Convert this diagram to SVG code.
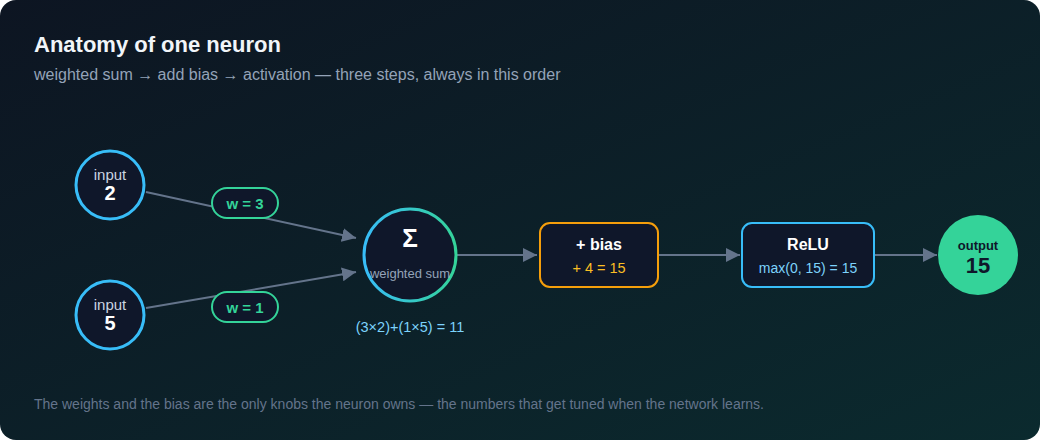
<svg xmlns="http://www.w3.org/2000/svg" width="1040" height="440" viewBox="0 0 1040 440">
<defs>
<linearGradient id="bg" x1="0" y1="0" x2="1" y2="1">
<stop offset="0" stop-color="#0d1522"/>
<stop offset="1" stop-color="#0b2a2e"/>
</linearGradient>
<linearGradient id="ring" x1="0" y1="0" x2="1" y2="0">
<stop offset="0" stop-color="#38bdf8"/>
<stop offset="1" stop-color="#34d399"/>
</linearGradient>
<marker id="arr" viewBox="0 0 10 10" refX="10" refY="5" markerWidth="14" markerHeight="14" markerUnits="userSpaceOnUse" orient="auto">
<path d="M0,0 L10,5 L0,10 z" fill="#64748b"/>
</marker>
<style>
.t{font-family:"Liberation Sans",Arial,sans-serif}
.edge{stroke:#64748b;stroke-width:2;fill:none}
.in{fill:#0f172a;stroke:#38bdf8;stroke-width:3}
.lbl{font-size:15px;fill:#cbd5e1}
.val{font-size:20px;font-weight:bold;fill:#ffffff}
.pill{fill:#0f172a;stroke:#34d399;stroke-width:2}
.pt{font-size:15px;font-weight:bold;fill:#34d399}
</style>
</defs>
<rect x="0" y="0" width="1040" height="440" rx="16" fill="url(#bg)"/>
<text class="t" x="34" y="52" font-size="22" font-weight="bold" fill="#f1f5f9">Anatomy of one neuron</text>
<text class="t" x="34" y="80" font-size="16" fill="#94a3b8">weighted sum → add bias → activation — three steps, always in this order</text>

<g id="connectors">
<line class="edge" x1="146" y1="192" x2="356" y2="238" marker-end="url(#arr)"/>
<line class="edge" x1="146" y1="308" x2="356" y2="272" marker-end="url(#arr)"/>
<line class="edge" x1="457" y1="255" x2="537" y2="255" marker-end="url(#arr)"/>
<line class="edge" x1="658" y1="255" x2="740" y2="255" marker-end="url(#arr)"/>
<line class="edge" x1="874" y1="255" x2="937" y2="255" marker-end="url(#arr)"/>
</g>

<g id="w1">
<rect class="pill" x="212" y="188" width="66" height="30" rx="15"/>
<text class="t pt" x="245" y="208.5" text-anchor="middle">w = 3</text>
</g>
<g id="w2">
<rect class="pill" x="212" y="292" width="66" height="30" rx="15"/>
<text class="t pt" x="245" y="312.5" text-anchor="middle">w = 1</text>
</g>

<g id="input1">
<circle class="in" cx="110" cy="185" r="34"/>
<text class="t lbl" x="110" y="180" text-anchor="middle">input</text>
<text class="t val" x="110" y="200" text-anchor="middle">2</text>
</g>
<g id="input2">
<circle class="in" cx="110" cy="315" r="34"/>
<text class="t lbl" x="110" y="310" text-anchor="middle">input</text>
<text class="t val" x="110" y="330" text-anchor="middle">5</text>
</g>

<g id="sum">
<circle cx="410" cy="255" r="46" fill="#0f172a" stroke="url(#ring)" stroke-width="3"/>
<text class="t" x="410" y="247" text-anchor="middle" font-size="26" font-weight="bold" fill="#ffffff">Σ</text>
<text class="t" x="410" y="278" text-anchor="middle" font-size="13" fill="#94a3b8">weighted sum</text>
<text class="t" x="410" y="332" text-anchor="middle" font-size="14.5" fill="#7dd3fc">(3×2)+(1×5) = 11</text>
</g>

<g id="bias">
<rect x="540" y="223" width="118" height="64" rx="10" fill="#0f172a" stroke="#f59e0b" stroke-width="2"/>
<text class="t" x="599" y="250" text-anchor="middle" font-size="16" font-weight="bold" fill="#ffffff">+ bias</text>
<text class="t" x="599" y="273" text-anchor="middle" font-size="14.5" fill="#fbbf24">+ 4 = 15</text>
</g>

<g id="relu">
<rect x="742" y="223" width="132" height="64" rx="10" fill="#0f172a" stroke="#38bdf8" stroke-width="2"/>
<text class="t" x="808" y="250" text-anchor="middle" font-size="16" font-weight="bold" fill="#ffffff">ReLU</text>
<text class="t" x="808" y="273" text-anchor="middle" font-size="14" fill="#7dd3fc">max(0, 15) = 15</text>
</g>

<g id="output">
<circle cx="978" cy="255" r="40" fill="#34d399"/>
<text class="t" x="978" y="250" text-anchor="middle" font-size="13" font-weight="bold" fill="#0f172a">output</text>
<text class="t" x="978" y="273" text-anchor="middle" font-size="22" font-weight="bold" fill="#0f172a">15</text>
</g>

<text class="t" x="34" y="409" font-size="14" fill="#64748b">The weights and the bias are the only knobs the neuron owns — the numbers that get tuned when the network learns.</text>
</svg>
